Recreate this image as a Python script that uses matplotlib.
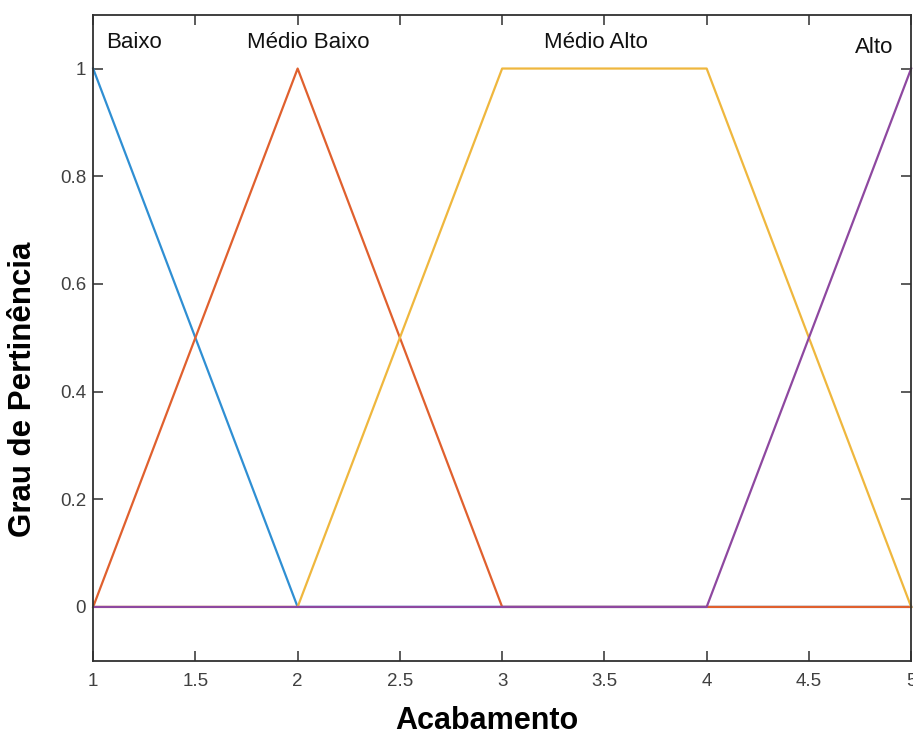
import matplotlib.pyplot as plt

plt.rcParams['font.family'] = ['Liberation Sans', 'DejaVu Sans']

# funções de pertinência (pontos de quebra)
baixo_x = [1, 2, 5]
baixo_y = [1, 0, 0]
medio_baixo_x = [1, 2, 3, 5]
medio_baixo_y = [0, 1, 0, 0]
medio_alto_x = [1, 2, 3, 4, 5]
medio_alto_y = [0, 0, 1, 1, 0]
alto_x = [1, 4, 5]
alto_y = [0, 0, 1]

nomes = ["Baixo", "Médio Baixo", "Médio Alto", "Alto"]
nome_x = [1.2, 2.05, 3.46, 4.82]
nome_y = [1.048, 1.048, 1.048, 1.04]

xticks = [1, 1.5, 2, 2.5, 3, 3.5, 4, 4.5, 5]
yticks = [0, 0.2, 0.4, 0.6, 0.8, 1]

cores = ["#2f8fd3", "#e0602e", "#efb73e", "#8e48a0"]

fig = plt.figure(figsize=(9.13, 7.35), dpi=100)
ax = fig.add_axes([0.102, 0.101, 0.896, 0.879])

series = [(baixo_x, baixo_y), (medio_baixo_x, medio_baixo_y),
          (medio_alto_x, medio_alto_y), (alto_x, alto_y)]
for (xs, ys), c in zip(series, cores):
    ax.plot(xs, ys, color=c, linewidth=1.6, clip_on=False)

for nome, tx, ty in zip(nomes, nome_x, nome_y):
    ax.text(tx, ty, nome, ha="center", va="center", fontsize=16, color="#111111")

ax.set_xlim(1, 5)
ax.set_ylim(-0.1, 1.1)
ax.set_xticks(xticks)
ax.set_xticklabels([f"{v:g}" for v in xticks])
ax.set_yticks(yticks)
ax.set_yticklabels([f"{v:g}" for v in yticks])
ax.tick_params(direction="in", length=7, width=1.2, colors="#404040",
               labelsize=13.5, top=True, right=True)
ax.tick_params(axis="x", pad=9)
ax.tick_params(axis="y", pad=5)
for s in ax.spines.values():
    s.set_color("#303030")
    s.set_linewidth(1.3)

ax.set_xlabel("Acabamento", fontsize=22, fontweight="bold", va="baseline")
ax.xaxis.set_label_coords(0.4817, -0.106)
ax.set_ylabel("Grau de Pertinência", fontsize=22.5, fontweight="bold", va="center")
ax.yaxis.set_label_coords(-0.0855, 0.42)

fig.savefig("out.png", dpi=100)
